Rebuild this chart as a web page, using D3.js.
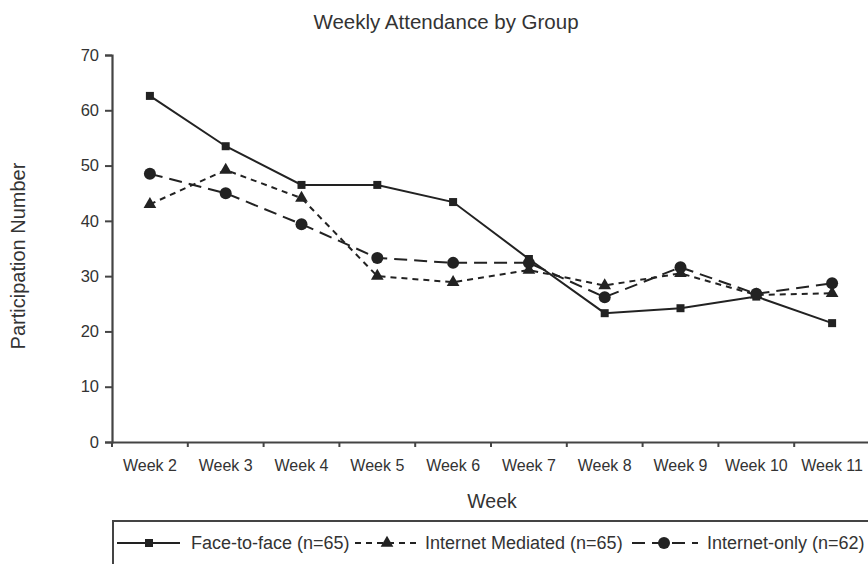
<!DOCTYPE html>
<html>
<head>
<meta charset="utf-8">
<script src="https://cdn.jsdelivr.net/npm/d3@7/dist/d3.min.js"></script>
<style>
  html, body { margin: 0; padding: 0; background: #fff; }
  svg { display: block; font-family: "Liberation Sans", Arial, sans-serif; }
</style>
</head>
<body>
<svg id="chart" width="868" height="564"></svg>
<script>
const weeks = ["Week 2","Week 3","Week 4","Week 5","Week 6","Week 7","Week 8","Week 9","Week 10","Week 11"];
const faceToFace = [62.6, 53.5, 46.5, 46.5, 43.4, 33.1, 23.3, 24.2, 26.3, 21.5];
const internetMediated = [43.0, 49.2, 44.1, 30.0, 28.9, 31.1, 28.3, 30.5, 26.6, 26.9];
const internetOnly = [48.5, 45.0, 39.4, 33.3, 32.4, 32.4, 26.2, 31.6, 26.8, 28.7];
const yTicks = [0, 10, 20, 30, 40, 50, 60, 70];
const seriesNames = ["Face-to-face (n=65)", "Internet Mediated (n=65)", "Internet-only (n=62)"];

const svg = d3.select("#chart");
const ink = "#222";
const textCol = "#333";

const x = d3.scaleBand().domain(weeks).range([112, 870]);
const y = d3.scaleLinear().domain([0, 70]).range([442, 55]);

// Title
svg.append("text").attr("x", 446).attr("y", 29).attr("text-anchor", "middle")
  .attr("font-size", 20.5).attr("fill", textCol).text("Weekly Attendance by Group");

// Y axis
const yAxis = svg.append("g").attr("transform", "translate(112,0)")
  .call(d3.axisLeft(y).tickValues(yTicks).tickSize(7).tickPadding(6).tickFormat(d3.format("d")));
yAxis.select(".domain").attr("stroke", "#444").attr("stroke-width", 2.2);
yAxis.selectAll(".tick line").attr("stroke", "#444").attr("stroke-width", 2);
yAxis.selectAll(".tick text").attr("font-size", 16.5).attr("fill", textCol)
  .attr("font-family", "Liberation Sans, Arial, sans-serif");

// X axis
const xAxis = svg.append("g").attr("transform", "translate(0,442)")
  .call(d3.axisBottom(x).tickSize(0).tickPadding(18));
xAxis.select(".domain").attr("stroke", "#444").attr("stroke-width", 2.2);
xAxis.selectAll(".tick text").attr("font-size", 16).attr("fill", textCol)
  .attr("font-family", "Liberation Sans, Arial, sans-serif");
// band boundary ticks
const boundaries = weeks.map(w => x(w));
svg.append("g").selectAll("line").data(boundaries).join("line")
  .attr("x1", d => d).attr("x2", d => d).attr("y1", 442).attr("y2", 447)
  .attr("stroke", "#444").attr("stroke-width", 2);

// Axis titles
svg.append("text").attr("x", 492).attr("y", 508).attr("text-anchor", "middle")
  .attr("font-size", 19.5).attr("fill", textCol).text("Week");
svg.append("text").attr("transform", "translate(25,256) rotate(-90)").attr("text-anchor", "middle")
  .attr("font-size", 20).attr("fill", textCol).text("Participation Number");

// Series
const cx = w => x(w) + x.bandwidth() / 2;
const line = d3.line().x(d => cx(d.w)).y(d => y(d.v));
const series = [
  { name: seriesNames[0], values: faceToFace, dash: null, marker: "square" },
  { name: seriesNames[1], values: internetMediated, dash: "6,5", marker: "triangle" },
  { name: seriesNames[2], values: internetOnly, dash: "13,7", marker: "circle" }
];

function drawMarker(g, type, px, py) {
  if (type === "square") {
    g.append("rect").attr("x", px - 4).attr("y", py - 4).attr("width", 8).attr("height", 8).attr("fill", ink);
  } else if (type === "triangle") {
    g.append("path").attr("d", d3.symbol(d3.symbolTriangle, 70)()).attr("transform", `translate(${px},${py})`).attr("fill", ink);
  } else {
    g.append("circle").attr("cx", px).attr("cy", py).attr("r", 6).attr("fill", ink);
  }
}

series.forEach(s => {
  const pts = weeks.map((w, i) => ({ w, v: s.values[i] }));
  svg.append("path").datum(pts).attr("d", line).attr("fill", "none")
    .attr("stroke", ink).attr("stroke-width", 2).attr("stroke-dasharray", s.dash);
  const g = svg.append("g");
  pts.forEach(p => drawMarker(g, s.marker, cx(p.w), y(p.v)));
});

// Legend
svg.append("rect").attr("x", 113).attr("y", 521).attr("width", 770).attr("height", 60)
  .attr("fill", "none").attr("stroke", "#444").attr("stroke-width", 2);
const legY = 543;
const legendItems = [
  { x1: 117, x2: 180, mx: 149, tx: 191 },
  { x1: 355, x2: 416, mx: 387, tx: 425 },
  { x1: 632, x2: 698, mx: 664, tx: 707 }
];
legendItems.forEach((it, i) => {
  const s = series[i];
  const g = svg.append("g");
  g.append("line").attr("x1", it.x1).attr("x2", it.x2).attr("y1", legY).attr("y2", legY)
    .attr("stroke", ink).attr("stroke-width", 2).attr("stroke-dasharray", s.dash);
  drawMarker(g, s.marker, it.mx, legY);
  g.append("text").attr("x", it.tx).attr("y", legY + 6).attr("font-size", 18)
    .attr("fill", textCol).text(s.name);
});
</script>
</body>
</html>
